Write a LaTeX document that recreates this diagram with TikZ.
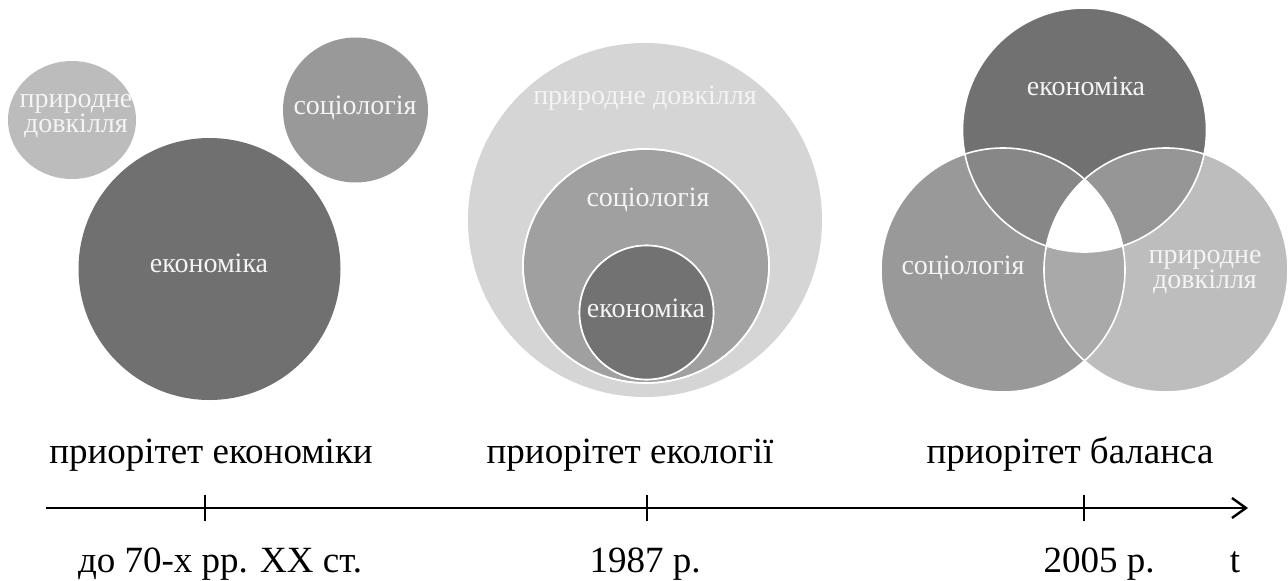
\documentclass[tikz,border=0pt]{standalone}
\usepackage{fontspec}
\setmainfont{Liberation Serif}
\usetikzlibrary{arrows.meta}
\definecolor{ecoL}{HTML}{707070}
\definecolor{socL}{HTML}{999999}
\definecolor{natL}{HTML}{BCBCBC}
\definecolor{natM}{HTML}{D5D5D5}
\definecolor{socM}{HTML}{A0A0A0}
\definecolor{ecoM}{HTML}{727272}
\definecolor{ecoR}{HTML}{717171}
\definecolor{socR}{HTML}{999999}
\definecolor{natR}{HTML}{BDBDBD}
\definecolor{esR}{HTML}{878787}
\definecolor{enR}{HTML}{969696}
\definecolor{snR}{HTML}{A9A9A9}
\definecolor{lbl}{HTML}{F4F4F4}
\tikzset{
  inlabel/.style={text=lbl, font=\fontsize{28}{23}\selectfont, align=center, inner sep=0pt},
  timelabel/.style={text=black, font=\fontsize{37}{40}\selectfont, anchor=base, inner sep=0pt},
  ring/.style={draw=white, line width=1.6pt},
  axisline/.style={line width=2.6pt, -{Straight Barb[length=14pt,width=20pt,line width=2.4pt]}},
  tickline/.style={line width=1.4pt}
}
\begin{document}
\begin{tikzpicture}[x=1pt,y=-1pt]
\useasboundingbox (0,0) rectangle (1288,581);
% ---------- left panel ----------
\fill[natL] (72,120) ellipse [x radius=64, y radius=59];
\fill[socL] (355.5,110) circle [radius=72.5];
\fill[ecoL] (209.5,269) circle [radius=131];
\node[inlabel] (lnat) at (76,116) {природне\\довкілля};
\node[inlabel] (lsoc) at (355,108) {соціологія};
\node[inlabel] (leco) at (209,263) {економіка};
% ---------- middle panel ----------
\fill[natM] (645,220) circle [radius=177];
\filldraw[socM, ring] (646,266) ellipse [x radius=123, y radius=117];
\filldraw[ecoM, ring] (646.5,312.5) circle [radius=67];
\draw[ring] (646,266) ellipse [x radius=123, y radius=117];
\filldraw[fill=ecoM, ring] (646.5,312.5) circle [radius=67];
\node[inlabel] (mnat) at (645,98) {природне довкілля};
\node[inlabel] (msoc) at (648,200) {соціологія};
\node[inlabel] (meco) at (646,308) {економіка};
% ---------- right panel (Venn) ----------
\def\ecoC{(1084.5,130) circle [radius=122]}
\def\socC{(1003,270) circle [radius=122]}
\def\natC{(1166,270) circle [radius=122]}
\fill[ecoR] \ecoC;
\fill[socR] \socC;
\fill[natR] \natC;
\begin{scope}\clip \ecoC; \fill[esR] \socC; \end{scope}
\begin{scope}\clip \ecoC; \fill[enR] \natC; \end{scope}
\begin{scope}\clip \socC; \fill[snR] \natC; \end{scope}
\begin{scope}\clip \ecoC; \clip \socC; \fill[white] \natC; \end{scope}
\draw[ring] \ecoC;
\draw[ring] \socC;
\draw[ring] \natC;
\node[inlabel] (reco) at (1086,86) {економіка};
\node[inlabel] (rsoc) at (963,268) {соціологія};
\node[inlabel] (rnat) at (1205,272) {природне\\довкілля};
% ---------- time axis ----------
\coordinate (a0) at (46,508);
\coordinate (a1) at (1248,508);
\draw[axisline] (a0) -- (a1);
\coordinate (t1a) at (205,495); \coordinate (t1b) at (205,521);
\coordinate (t2a) at (647,495); \coordinate (t2b) at (647,521);
\coordinate (t3a) at (1084,495); \coordinate (t3b) at (1084,521);
\draw[tickline] (t1a) -- (t1b);
\draw[tickline] (t2a) -- (t2b);
\draw[tickline] (t3a) -- (t3b);
\node[timelabel] (p1) at (211,463) {приорітет економіки};
\node[timelabel] (p2) at (630,463) {приорітет екології};
\node[timelabel] (p3) at (1070,463) {приорітет баланса};
\node[timelabel] (d1) at (220,572) {до 70-х рр. ХХ ст.};
\node[timelabel] (d2) at (645,572) {1987 р.};
\node[timelabel] (d3) at (1099,572) {2005 р.};
\node[timelabel] (tt) at (1235,572) {t};
\end{tikzpicture}
\end{document}
